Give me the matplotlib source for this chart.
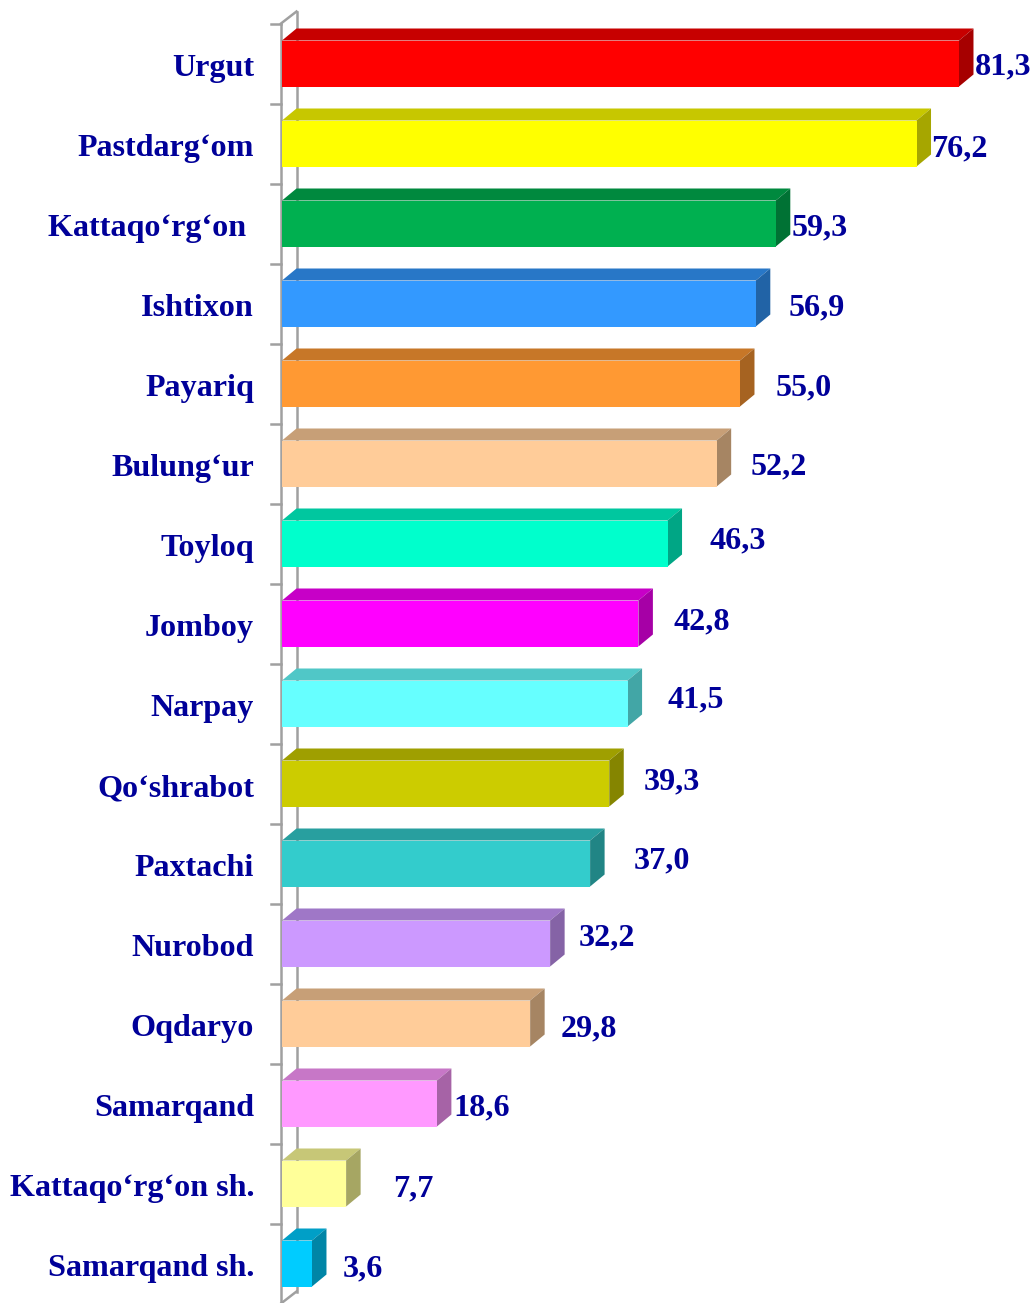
import numpy as np
import matplotlib.pyplot as plt
from matplotlib.patches import Polygon
from matplotlib.colors import to_rgb

# tumanlar va qiymatlar
districts = ['Urgut', 'Pastdarg‘om', 'Kattaqo‘rg‘on ', 'Ishtixon', 'Payariq',
             'Bulung‘ur', 'Toyloq', 'Jomboy', 'Narpay', 'Qo‘shrabot', 'Paxtachi',
             'Nurobod', 'Oqdaryo', 'Samarqand', 'Kattaqo‘rg‘on sh.', 'Samarqand sh.']
values = [81.3, 76.2, 59.3, 56.9, 55.0, 52.2, 46.3, 42.8, 41.5, 39.3, 37.0,
          32.2, 29.8, 18.6, 7.7, 3.6]
colors = ['#FF0000', '#FFFF00', '#00B050', '#3399FF', '#FF9933', '#FFCC99',
          '#00FFCC', '#FF00FF', '#66FFFF', '#CCCC00', '#33CCCC', '#CC99FF',
          '#FFCC99', '#FF99FF', '#FFFF99', '#00CCFF']

# qiymat yozuvlarining siljishi (piksel): o'ngga, yuqoriga
label_dx = [16, 15, 16, 33, 36, 34, 42, 35, 40, 34, 44, 29, 30, 16, 47, 31]
label_dy = [0, -2, -1, -1, -1, 0, 6, 5, 7, 5, 6, 9, -2, -1, -2, -2]

W, H = 1032, 1303
x0 = 282            # o'q boshlanishi (piksel)
px_per_unit = 8.327
row = 80.0
first_center = 63.5

fig = plt.figure(figsize=(W / 100, H / 100), dpi=100)
ax = fig.add_axes([x0 / W, 0, (W - x0) / W, 1])
ax.set_xlim(0, (W - x0) / px_per_unit)
ax.set_ylim((H - first_center) / row, -first_center / row)
ax.axis('off')

n = len(values)
dx = 14.5 / px_per_unit   # chuqurlik
dy = 12.0 / row
h = 46.0 / row            # ustun balandligi


def shade(c, k):
    r, g, b = to_rgb(c)
    return (r * k, g * k, b * k)


# orqa devor va o'q chiziqlari
grey = '#A0A0A0'
lw = 1.8
fx = -1.0 / px_per_unit
top_y, bot_y = -0.5, n - 0.5
ax.plot([fx, fx], [top_y, bot_y], color=grey, lw=lw, zorder=1, clip_on=False)
ax.plot([dx, dx], [top_y - dy, bot_y - dy], color=grey, lw=lw, zorder=1)
ax.plot([fx, dx], [top_y, top_y - dy], color=grey, lw=lw, zorder=1, clip_on=False)
ax.plot([fx, dx], [bot_y, bot_y - dy], color=grey, lw=lw, zorder=1, clip_on=False)
tick_len = 10 / px_per_unit
for k in range(n + 1):
    y = k - 0.5
    ax.plot([fx - tick_len, fx], [y, y], color=grey, lw=lw, zorder=1, clip_on=False)

# 3D ustunlar
for i, (v, c) in enumerate(zip(values, colors)):
    yt, yb = i - h / 2, i + h / 2
    front = Polygon([(0, yt), (v, yt), (v, yb), (0, yb)], closed=True,
                    facecolor=c, edgecolor='none', zorder=3)
    top = Polygon([(0, yt), (v, yt), (v + dx, yt - dy), (dx, yt - dy)], closed=True,
                  facecolor=shade(c, 0.78), edgecolor='none', zorder=2)
    side = Polygon([(v, yt), (v + dx, yt - dy), (v + dx, yb - dy), (v, yb)], closed=True,
                   facecolor=shade(c, 0.65), edgecolor='none', zorder=2)
    for p in (top, side, front):
        ax.add_patch(p)

font = dict(family='Liberation Serif', weight='bold', size=23.1, color='#000099')

for i, (name, v) in enumerate(zip(districts, values)):
    ax.annotate(name, xy=(0, i), xytext=(-28, -12.5), textcoords='offset pixels',
                ha='right', va='baseline', annotation_clip=False, **font)
    ax.annotate(f'{v:.1f}'.replace('.', ','), xy=(v, i),
                xytext=(label_dx[i], label_dy[i] - 11), textcoords='offset pixels',
                ha='left', va='baseline', annotation_clip=False, **font)

fig.savefig('out.png', dpi=100)
